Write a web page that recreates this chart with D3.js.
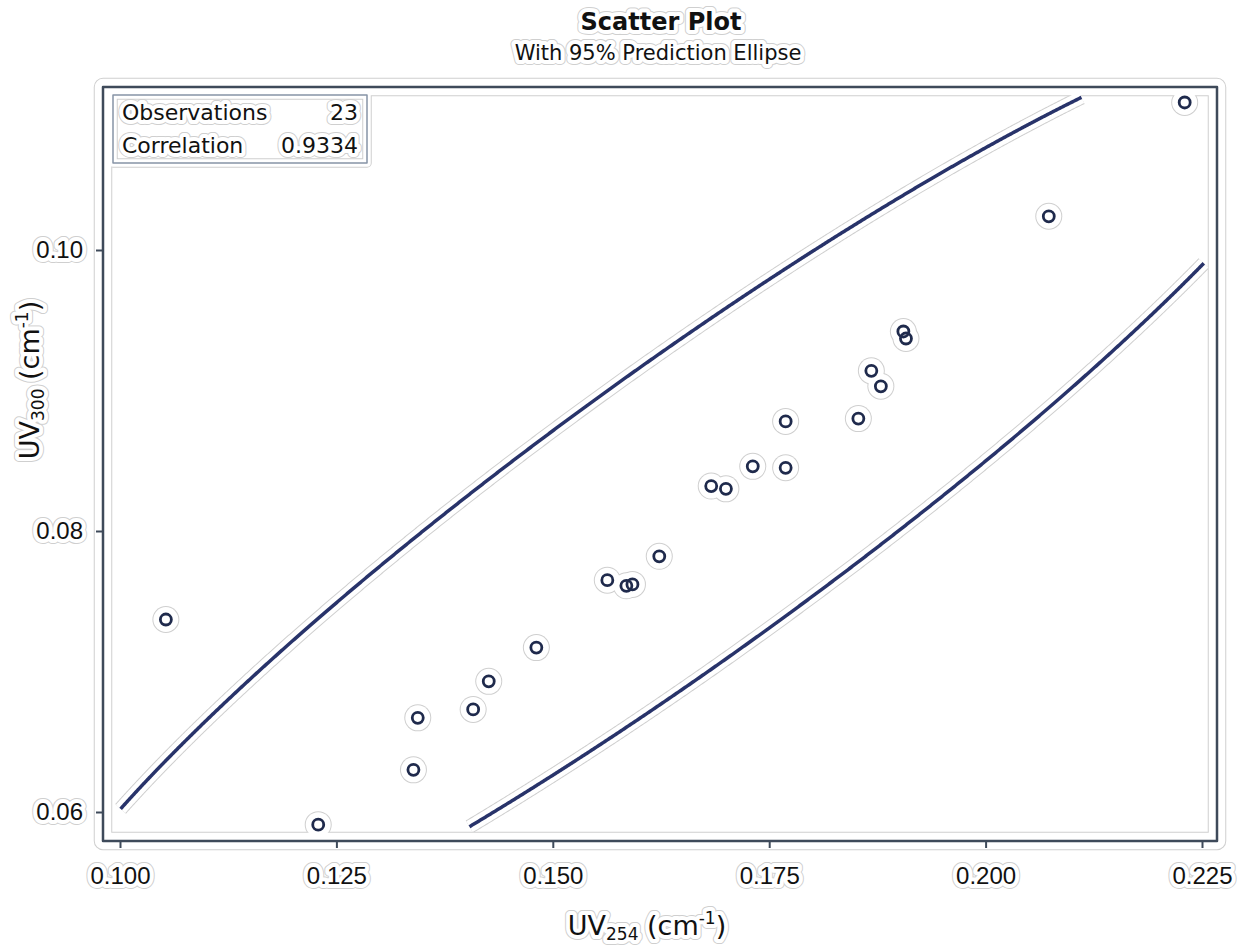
<!DOCTYPE html>
<html>
<head>
<meta charset="utf-8">
<script src="https://cdn.jsdelivr.net/npm/d3@7"></script>
<style>
  body { margin: 0; background: #fff; }
  svg { display: block; font-family: "DejaVu Sans", sans-serif; }
</style>
</head>
<body>
<svg id="chart" width="1246" height="947"></svg>
<script>
// UV254 vs UV300 observations
const uv254 = [0.1053, 0.1229, 0.1339, 0.1344, 0.1408, 0.1426, 0.1481, 0.1563, 0.1585, 0.1592,
               0.1623, 0.1683, 0.1700, 0.1731, 0.1769, 0.1769, 0.1853, 0.1868, 0.1879, 0.1905,
               0.1908, 0.2073, 0.2230];
const uv300 = [0.0737, 0.0591, 0.0630, 0.0667, 0.0673, 0.0693, 0.0717, 0.0765, 0.0761, 0.0762,
               0.0782, 0.0832, 0.0830, 0.0846, 0.0845, 0.0878, 0.0880, 0.0914, 0.0903, 0.0942,
               0.0937, 0.1024, 0.1105];

const xTicks = [0.100, 0.125, 0.150, 0.175, 0.200, 0.225];
const yTicks = [0.06, 0.08, 0.10];

const statLabels = ["Observations", "Correlation"];
const statValues = ["23", "0.9334"];

// ellipse is only drawn inside this window (data units)
const ellipseClipX = [0.100, 0.2253];
const ellipseClipY = [0.0589, 0.1109];
const fQuantile = 3.4668; // F(0.95; 2, n-2) for n = 23

// layout
const frame = { left: 103, right: 1217, top: 87, bottom: 841 };
const inkText = "#111";
const inkMarker = "#1f2a4c";
const inkLine = "#28336a";
const inkFrame = "#3e4a5a";
const haloGray = "#cfcfcf";

const svg = d3.select("#chart");

const x = d3.scaleLinear().domain([0.100, 0.225]).range([120, 1202]);
const y = d3.scaleLinear().domain([0.06, 0.10]).range([812, 250]);

// three layers give the light outline halo seen around every mark
const layers = {
    gray: svg.append("g"),
    white: svg.append("g"),
    ink: svg.append("g")
};

function textStyle(sel, mode, fill) {
    if (mode === "gray") sel.attr("fill", haloGray).attr("stroke", haloGray).attr("stroke-width", 10).attr("stroke-linejoin", "round");
    else if (mode === "white") sel.attr("fill", "#fff").attr("stroke", "#fff").attr("stroke-width", 8).attr("stroke-linejoin", "round");
    else sel.attr("fill", fill || inkText).attr("stroke", "none");
}

function lineStyle(sel, mode, color, width, halo) {
    if (mode === "gray") sel.attr("stroke", haloGray).attr("stroke-width", width + halo + 2);
    else if (mode === "white") sel.attr("stroke", "#fff").attr("stroke-width", width + halo);
    else sel.attr("stroke", color).attr("stroke-width", width);
    sel.attr("fill", "none").attr("stroke-linejoin", "round");
}

// prediction ellipse from the data
const n = uv254.length;
const mx = d3.mean(uv254), my = d3.mean(uv300);
let sxx = 0, syy = 0, sxy = 0;
for (let i = 0; i < n; i++) {
    sxx += (uv254[i] - mx) ** 2;
    syy += (uv300[i] - my) ** 2;
    sxy += (uv254[i] - mx) * (uv300[i] - my);
}
sxx /= n - 1; syy /= n - 1; sxy /= n - 1;
const c = Math.sqrt(2 * (n - 1) * (n + 1) / (n * (n - 2)) * fQuantile);
// cholesky factor of covariance
const l11 = Math.sqrt(sxx), l21 = sxy / l11, l22 = Math.sqrt(syy - l21 * l21);
const ellPts = d3.range(0, 2 * Math.PI, Math.PI / 1500).map(t => {
    const a = c * Math.cos(t), b = c * Math.sin(t);
    return [mx + l11 * a, my + l21 * a + l22 * b];
});
// split into runs inside the clip window
const inside = p => p[0] >= ellipseClipX[0] && p[0] <= ellipseClipX[1] && p[1] >= ellipseClipY[0] && p[1] <= ellipseClipY[1];
const runs = [];
let cur = null;
ellPts.forEach(p => {
    if (inside(p)) { if (!cur) { cur = []; runs.push(cur); } cur.push(p); }
    else cur = null;
});
// join a run that wraps around t = 0
if (runs.length > 1 && inside(ellPts[0]) && inside(ellPts[ellPts.length - 1])) {
    const last = runs.pop();
    runs[0] = last.concat(runs[0]);
}
const lineGen = d3.line().x(d => x(d[0])).y(d => y(d[1]));

function draw(mode) {
    const g = layers[mode];

    // frame
    g.append("rect")
        .attr("x", frame.left).attr("y", frame.top)
        .attr("width", frame.right - frame.left).attr("height", frame.bottom - frame.top)
        .call(lineStyle, mode, inkFrame, 2.5, 14);

    // axes
    const yAxis = d3.axisLeft(y).tickValues(yTicks).tickFormat(d3.format(".2f")).tickSize(7).tickPadding(13);
    const xAxis = d3.axisBottom(x).tickValues(xTicks).tickFormat(d3.format(".3f")).tickSize(7).tickPadding(19);

    const ya = g.append("g").attr("transform", `translate(${frame.left},0)`).call(yAxis);
    const xa = g.append("g").attr("transform", `translate(0,${frame.bottom})`).call(xAxis);
    [ya, xa].forEach(a => {
        a.select(".domain").remove();
        a.selectAll("line").call(lineStyle, mode, inkFrame, 2, 6);
        a.selectAll("text").style("font-size", "24px").style("font-family", "Liberation Sans").call(textStyle, mode);
    });

    // ellipse
    g.selectAll(".ell").data(runs).join("path")
        .attr("d", lineGen)
        .attr("stroke-linecap", "butt")
        .call(lineStyle, mode, inkLine, 3.5, 9);

    // markers
    const pts = g.selectAll(".pt").data(uv254.map((v, i) => [v, uv300[i]])).join("circle")
        .attr("cx", d => x(d[0])).attr("cy", d => y(d[1]));
    if (mode === "gray") pts.attr("r", 13.5).attr("fill", haloGray);
    else if (mode === "white") pts.attr("r", 12.5).attr("fill", "#fff");
    else pts.attr("r", 5.5).attr("fill", "none").attr("stroke", inkMarker).attr("stroke-width", 2.8);

    // stats inset
    g.append("rect")
        .attr("x", 113).attr("y", 95).attr("width", 254).attr("height", 68)
        .call(lineStyle, mode, "#8794a6", 1.5, 6);
    statLabels.forEach((s, i) => {
        g.append("text").attr("x", 122).attr("y", 120 + i * 33)
            .style("font-size", "22px").text(s).call(textStyle, mode);
        g.append("text").attr("x", 358).attr("y", 120 + i * 33)
            .attr("text-anchor", "end")
            .style("font-size", "22px").text(statValues[i]).call(textStyle, mode);
    });

    // titles
    g.append("text").attr("x", 661).attr("y", 30).attr("text-anchor", "middle")
        .style("font-size", "24px").style("font-weight", "bold")
        .text("Scatter Plot").call(textStyle, mode);
    g.append("text").attr("x", 658).attr("y", 60).attr("text-anchor", "middle")
        .style("font-size", "21px")
        .text("With 95% Prediction Ellipse").call(textStyle, mode);

    // axis labels
    function axisLabel(t, sub) {
        t.append("tspan").text("UV");
        t.append("tspan").attr("dy", 5).style("font-size", "17px").text(sub);
        t.append("tspan").attr("dy", -5).text(" (cm");
        t.append("tspan").attr("dy", -11).style("font-size", "17px").text("-1");
        t.append("tspan").attr("dy", 11).text(")");
    }
    const xl = g.append("text").attr("x", 647).attr("y", 935).attr("text-anchor", "middle")
        .style("font-size", "27px");
    axisLabel(xl, "254");
    xl.call(textStyle, mode);

    const yl = g.append("text").attr("transform", "translate(39,380) rotate(-90)").attr("text-anchor", "middle")
        .style("font-size", "27px");
    axisLabel(yl, "300");
    yl.call(textStyle, mode);
}

["gray", "white", "ink"].forEach(draw);
</script>
</body>
</html>
